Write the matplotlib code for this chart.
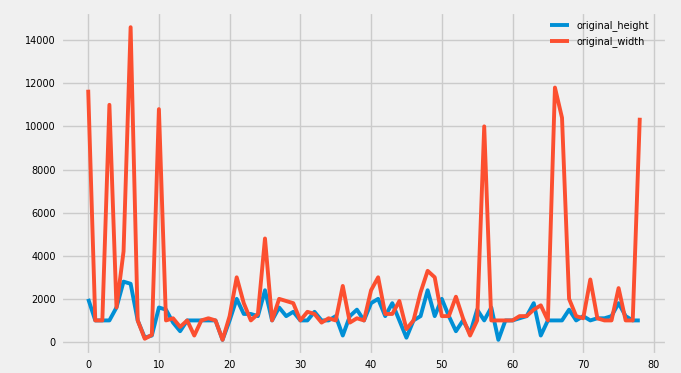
import matplotlib
matplotlib.use("Agg")
import matplotlib.pyplot as plt

plt.style.use("fivethirtyeight")

original_height = [2000, 1000, 1000, 1000, 1600, 2800, 2700, 1000, 200, 300,
                   1600, 1500, 900, 500, 1000, 1000, 1000, 1000, 1000, 100,
                   1000, 2000, 1300, 1300, 1200, 2400, 1000, 1600, 1200, 1400,
                   1000, 1000, 1400, 1000, 1000, 1200, 300, 1200, 1500, 1000,
                   1800, 2000, 1200, 1800, 1000, 200, 1000, 1200, 2400, 1200,
                   2000, 1200, 500, 1000, 400, 1500, 1000, 1600, 100, 1000,
                   1000, 1100, 1200, 1800, 300, 1000, 1000, 1000, 1500, 1000,
                   1200, 1000, 1100, 1100, 1200, 1800, 1200, 1000, 1000]
original_width = [11700, 1000, 1000, 11000, 1600, 4200, 14600, 1000, 150, 330,
                  10800, 1000, 1100, 700, 1000, 300, 1000, 1100, 1000, 100,
                  1200, 3000, 1800, 1000, 1300, 4800, 1000, 2000, 1900, 1800,
                  1000, 1400, 1300, 900, 1100, 1000, 2600, 900, 1100, 1000,
                  2400, 3000, 1300, 1300, 1900, 600, 1000, 2300, 3300, 3000,
                  1200, 1200, 2100, 1100, 300, 1000, 10000, 1000, 1000, 1000,
                  1000, 1200, 1200, 1500, 1700, 1000, 11800, 10400, 2000, 1200,
                  1100, 2900, 1100, 1000, 1000, 2500, 1000, 1000, 10400]
index = list(range(len(original_height)))

fig, ax = plt.subplots(figsize=(6.81, 3.73), dpi=100)
ax.plot(index, original_height, lw=2.8, label="original_height")
ax.plot(index, original_width, lw=2.8, label="original_width")
ax.tick_params(labelsize=7)
ax.legend(fontsize=7, loc="upper right", frameon=False,
          bbox_to_anchor=(0.985, 1.0))
fig.subplots_adjust(left=0.089, right=0.98, top=0.969, bottom=0.047)
fig.savefig("out.png", dpi=100)
